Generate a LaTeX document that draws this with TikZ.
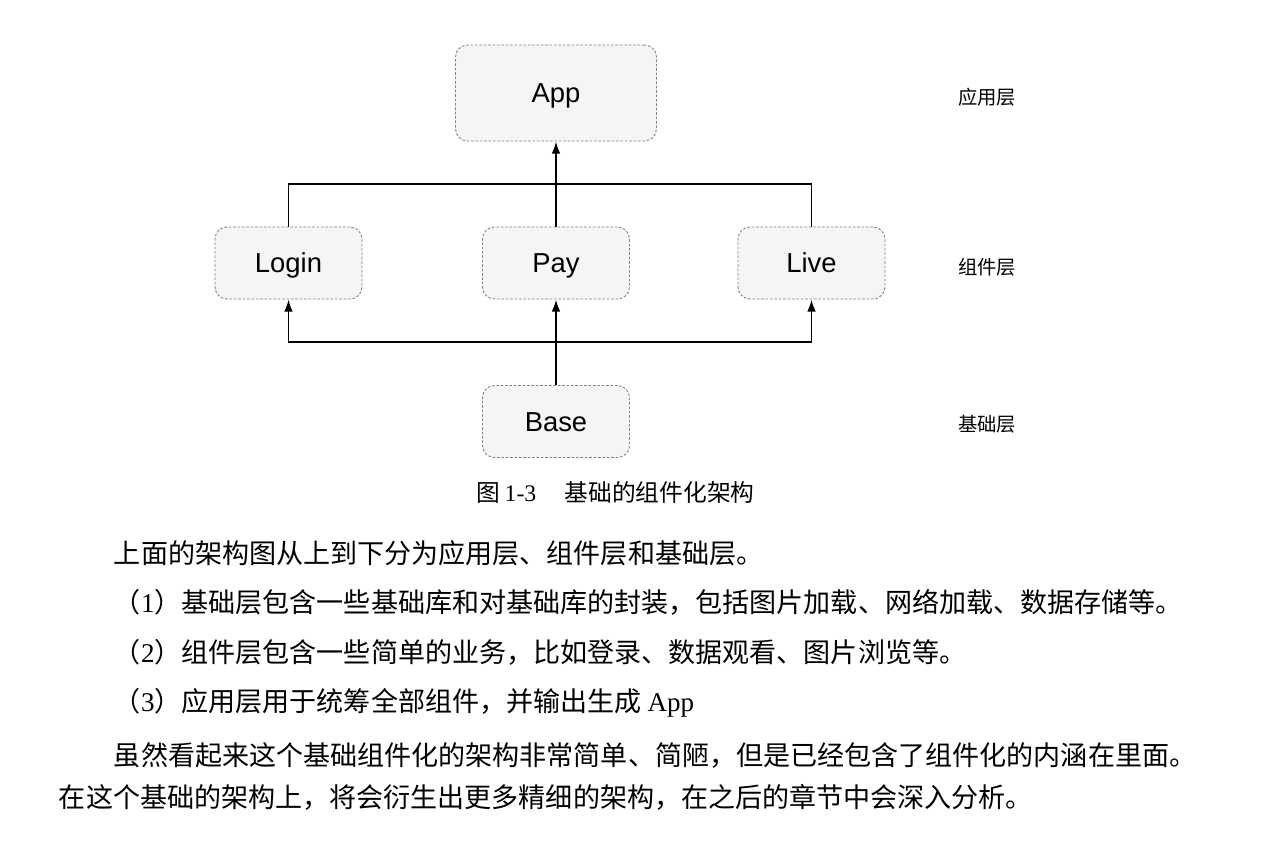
\documentclass[tikz,border=0pt]{standalone}
\usepackage{fontspec}
\setmainfont{Liberation Serif}
\newfontfamily\cjk{Noto Sans CJK SC}
\newfontfamily\arial{Liberation Sans}
\usetikzlibrary{arrows.meta}

\begin{document}
\begin{tikzpicture}[x=0.02cm, y=-0.02cm, line width=1.1pt, >={Latex[length=7pt,width=5pt]},
  module/.style={draw=gray, line width=0.5pt, dash pattern=on 1.5pt off 1pt, rounded corners=0.24cm, fill=gray!8, inner sep=0pt, text height=11pt, text depth=0pt, minimum width=2.94cm, minimum height=1.44cm, font=\arial\fontsize{15.6}{18}\selectfont},
  layer/.style={font=\cjk\fontsize{11}{13}\selectfont},
  para/.style={anchor=west, inner sep=0pt, font=\cjk\fontsize{15.4}{18}\selectfont}]
			\useasboundingbox (0,0) rectangle (1268,863);
			\node[module, minimum width=4.02cm, minimum height=1.92cm] (app) at (556,93) {App};
			\node[module] (login) at (288.5,263) {Login};
			\node[module] (pay) at (556,263) {Pay};
			\node[module] (live) at (811.5,263) {Live};
			\node[module] (base) at (556,421.5) {Base};
			\coordinate (upper) at (556,184);
			\coordinate (lower) at (556,342);
			\draw [->] (pay) -- (app);
			\draw (login) |- (upper) -| (live);
			\draw [->] (base) -- (pay);
			\draw [->] (lower) -| (login);
			\draw [->] (lower) -| (live);
			\node[layer] (applayer) at (987,97) {应用层};
			\node[layer] (complayer) at (987,267) {组件层};
			\node[layer] (baselayer) at (987,424) {基础层};
			\node[anchor=west, inner sep=0pt, font=\fontsize{13.5}{16}\selectfont] (caption) at (476,492) {{\cjk 图}\,1-3\hspace{1.2em}{\cjk 基础的组件化架构}};
			\node[para] (line1) at (113,553) {上面的架构图从上到下分为应用层、组件层和基础层。};
			\node[para] (line2) at (113,602) {（{\rmfamily 1}）基础层包含一些基础库和对基础库的封装，包括图片加载、网络加载、数据存储等。};
			\node[para] (line3) at (113,652) {（{\rmfamily 2}）组件层包含一些简单的业务，比如登录、数据观看、图片浏览等。};
			\node[para] (line4) at (113,703) {（{\rmfamily 3}）应用层用于统筹全部组件，并输出生成 {\rmfamily App}};
			\node[para] (line5) at (113,755) {虽然看起来这个基础组件化的架构非常简单、简陋，但是已经包含了组件化的内涵在里面。};
			\node[para] (line6) at (58,797) {在这个基础的架构上，将会衍生出更多精细的架构，在之后的章节中会深入分析。};
			\end{tikzpicture}
\end{document}
